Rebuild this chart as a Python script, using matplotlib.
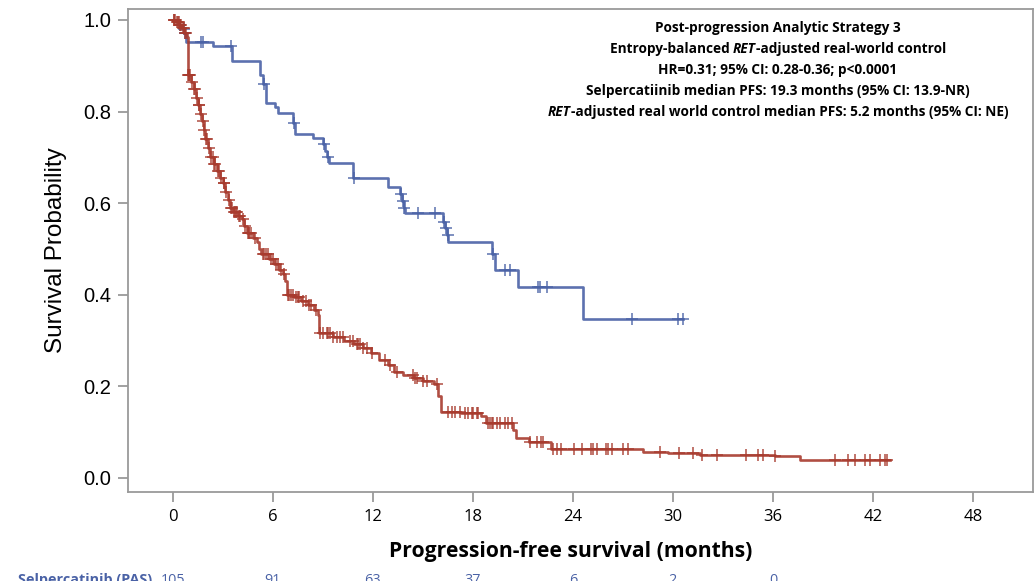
import numpy as np
import matplotlib
matplotlib.use('Agg')
import matplotlib.pyplot as plt
from matplotlib.transforms import blended_transform_factory

# Selpercatinib (PAS): event times (months) and KM survival after each event
blue_t = [0, 0.35, 0.55, 0.7, 0.8, 2.44, 3.54, 5.25, 5.4, 5.6, 6.14, 6.34, 7.24, 7.35,
          8.4, 9.04, 9.15, 9.25, 9.35, 10.84, 12.94, 13.64, 13.75, 13.85, 13.94, 16.24,
          16.35, 16.45, 16.54, 19.14, 19.34, 20.7, 24.63]
blue_s = [1.0, 0.99, 0.981, 0.971, 0.952, 0.943, 0.910, 0.88, 0.86, 0.818, 0.809, 0.798,
          0.775, 0.751, 0.742, 0.73, 0.715, 0.70, 0.687, 0.654, 0.636, 0.62, 0.605, 0.59,
          0.578, 0.56, 0.545, 0.53, 0.516, 0.49, 0.454, 0.418, 0.347]
blue_end = 30.63
blue_cens = [0.45, 0.65, 0.75, 1.68, 1.8, 3.5, 5.45, 7.3, 9.1, 9.3, 10.9, 13.7, 13.8, 13.9,
             14.74, 15.74, 16.3, 16.4, 16.5, 19.2, 19.95, 20.25, 21.93, 22.05, 22.44,
             27.57, 30.33, 30.63]

# RET-adjusted real-world control
red_t = [0, 0.2, 0.4, 0.55, 0.7, 0.85, 0.9, 1.1, 1.25, 1.4, 1.5, 1.65, 1.75, 1.85, 1.95,
         2.1, 2.25, 2.45, 2.65, 2.85, 3.0, 3.15, 3.3, 3.45, 3.6, 3.9, 4.15, 4.3, 4.45, 4.8,
         5.05, 5.2, 5.3, 5.8, 6.1, 6.4, 6.6, 6.75, 6.85, 7.3, 7.7, 8.1, 8.45, 8.7, 8.75,
         9.6, 10.3, 10.9, 11.4, 11.9, 12.4, 12.9, 13.3, 13.8, 14.5, 15.0, 15.7, 15.9, 16.1,
         17.3, 18.5, 18.8, 20.4, 20.6, 21.4, 22.7, 28.2, 29.7, 31.6, 36.1, 37.6]
red_s = [1.0, 0.995, 0.99, 0.982, 0.972, 0.962, 0.88, 0.865, 0.85, 0.83, 0.815, 0.795, 0.78,
         0.76, 0.74, 0.72, 0.70, 0.685, 0.67, 0.655, 0.643, 0.625, 0.607, 0.59, 0.58, 0.572,
         0.565, 0.55, 0.535, 0.525, 0.515, 0.50, 0.488, 0.478, 0.468, 0.455, 0.445, 0.43,
         0.40, 0.395, 0.387, 0.378, 0.366, 0.356, 0.316, 0.308, 0.300, 0.292, 0.283, 0.272,
         0.258, 0.246, 0.232, 0.224, 0.218, 0.212, 0.206, 0.178, 0.145, 0.141, 0.136, 0.12,
         0.105, 0.087, 0.079, 0.063, 0.057, 0.054, 0.050, 0.047, 0.039]
red_end = 43.0
red_cens = [0.05, 0.1, 0.15, 0.25, 0.3, 0.35, 0.45, 0.5, 0.6, 0.65, 0.75, 0.8,
            0.92, 0.97, 1.0, 1.05, 1.15, 1.3, 1.35, 1.45, 1.55, 1.6, 1.7, 1.8, 1.9, 2.0,
            2.05, 2.15, 2.3, 2.4, 2.5, 2.55, 2.7, 2.8, 2.9, 3.05, 3.1, 3.2, 3.35, 3.5, 3.55,
            3.7, 3.75, 3.8, 3.85, 4.0, 4.05, 4.2, 4.35, 4.5, 4.55, 4.6, 4.7, 4.95, 5.4, 5.5,
            5.6, 5.7, 5.9, 6.0, 6.2, 6.3, 6.5, 6.7, 6.9, 7.0, 7.1, 7.2, 7.4, 7.5, 7.6, 7.8,
            8.0, 8.2, 8.3, 8.6, 8.84, 9.04, 9.24, 9.34, 9.44, 9.64, 9.84, 10.04, 10.24,
            10.64, 10.84, 11.04, 11.14, 11.24, 11.44, 11.64, 11.94, 12.74, 13.04, 13.44,
            14.44, 14.54, 14.64, 15.04, 15.24, 15.84, 16.54, 16.74, 16.94, 17.24, 17.54,
            17.74, 17.94, 18.04, 18.24, 18.34, 18.94, 19.04, 19.14, 19.24, 19.44, 19.64,
            19.94, 20.14, 20.34, 21.44, 21.84, 22.08, 22.24, 22.83, 23.04, 23.28, 24.08,
            24.54, 25.08, 25.23, 25.44, 26.0, 26.13, 26.34, 27.03, 27.33, 29.23, 30.37,
            31.23, 31.73, 32.63, 34.37, 35.12, 35.42, 36.12, 39.72, 40.52, 40.92, 41.52,
            41.82, 42.42, 42.72, 42.82]

risk_label = 'Selpercatinib (PAS)'
risk_times = [0, 6, 12, 18, 24, 30, 36]
risk_counts = [105, 91, 63, 37, 6, 2, 0]

x_ticks = [0, 6, 12, 18, 24, 30, 36, 42, 48]
y_ticks = [0.0, 0.2, 0.4, 0.6, 0.8, 1.0]

ann_lines = [
    [('Post-progression Analytic Strategy 3', 'normal')],
    [('Entropy-balanced ', 'normal'), ('RET', 'italic'), ('-adjusted real-world control', 'normal')],
    [('HR=0.31; 95% CI: 0.28-0.36; p<0.0001', 'normal')],
    [('Selpercatiinib median PFS: 19.3 months (95% CI: 13.9-NR)', 'normal')],
    [('RET', 'italic'), ('-adjusted real world control median PFS: 5.2 months (95% CI: NE)', 'normal')],
]

COL_BLUE = '#4a62a6'
COL_RED = '#a83b2e'
COL_AX = '#9a9a9a'
SANS2 = ['Open Sans', 'DejaVu Sans']

W, H = 1035, 581
fig = plt.figure(figsize=(W / 100, H / 100), dpi=100)
ax = fig.add_axes([128 / W, 1 - 492 / H, (1033 - 128) / W, (492 - 9) / H])


def km(ax, t, s, end, cens, col):
    t = np.asarray(t); s = np.asarray(s)
    ax.step(np.r_[t, end], np.r_[s, s[-1]], where='post', color=col, lw=1.9, alpha=0.9)
    c = np.asarray(cens)
    cy = s[np.searchsorted(t, c, side='right') - 1]
    ax.plot(c, cy, ls='none', marker='+', ms=8, mew=1.1, color=col, alpha=0.9)


km(ax, blue_t, blue_s, blue_end, blue_cens, COL_BLUE)
km(ax, red_t, red_s, red_end, red_cens, COL_RED)

ax.set_xlim(-2.68, 51.6)
ax.set_ylim(-0.0306, 1.024)
ax.set_xticks(x_ticks)
ax.set_xticklabels([str(v) for v in x_ticks], fontfamily='Open Sans', fontsize=12)
ax.set_yticks(y_ticks)
ax.set_yticklabels([f'{v:.1f}' for v in y_ticks], fontfamily='Liberation Sans', fontsize=14.5)
ax.tick_params(length=7, width=1.3, color=COL_AX, pad=5)
for sp in ax.spines.values():
    sp.set_color(COL_AX)
    sp.set_linewidth(1.3)

ax.set_ylabel('Survival Probability', fontfamily='Liberation Sans', fontsize=17.5, labelpad=12)
fig.text(571 / W, 1 - 552 / H, 'Progression-free survival (months)', ha='center', va='center',
         fontfamily=SANS2, fontweight='bold', fontsize=15.2)

# number at risk row (cut off at the bottom of the image)
tr = blended_transform_factory(ax.transData, fig.transFigure)
fig.text(18 / W, 1 - 573 / H, risk_label, ha='left', va='top', color=COL_BLUE,
         fontfamily=SANS2, fontweight='bold', fontsize=10.4)
for tm, n in zip(risk_times, risk_counts):
    ax.text(tm, 1 - 573 / H, str(n), transform=tr, ha='center', va='top', color=COL_BLUE,
            fontfamily=SANS2, fontsize=10.4, clip_on=False)

# centred annotation block with italic RET pieces
renderer = fig.canvas.get_renderer()
line_y = [28, 49, 70, 91, 112]
cx = 778
for parts, yp in zip(ann_lines, line_y):
    texts = [fig.text(0, 1 - yp / H, s, ha='left', va='center', fontfamily=SANS2,
                      fontweight='bold', fontstyle=st, fontsize=9.8) for s, st in parts]
    widths = [t.get_window_extent(renderer).width for t in texts]
    x = cx - sum(widths) / 2
    for t, w in zip(texts, widths):
        t.set_x(x / W)
        x += w

fig.savefig('out.png', dpi=100)
